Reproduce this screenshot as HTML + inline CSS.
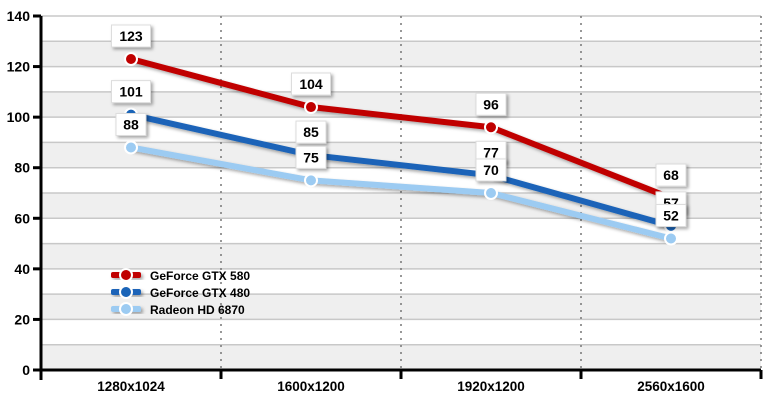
<!DOCTYPE html>
<html><head><meta charset="utf-8"><style>
body{margin:0;background:#fff;font-family:"Liberation Sans",Arial,sans-serif}
</style></head><body>
<svg width="771" height="405" xmlns="http://www.w3.org/2000/svg">
<defs><filter id="sh" x="-30%" y="-30%" width="160%" height="160%"><feDropShadow dx="2" dy="2" stdDeviation="1.5" flood-color="#000" flood-opacity="0.35"/></filter></defs>
<g id="bands"></g><g id="grid"></g><g id="axes"></g><g id="series"></g><g id="labels"></g><g id="legend"></g>
</svg>
<script>
const categories=["1280x1024","1600x1200","1920x1200","2560x1600"];
const seriesNames=["GeForce GTX 580","GeForce GTX 480","Radeon HD 6870"];
const gtx580=[123,104,96,68];
const gtx480=[101,85,77,57];
const hd6870=[88,75,70,52];
const yTicks=[0,20,40,60,80,100,120,140];
const colors=["#c00000","#1a64b8","#9ccbf2"];
const X0=41,X1=761,Y0=370,Y1=16,YMAX=140;
const xs=i=>X0+(X1-X0)/categories.length*(i+0.5);
const ys=v=>Y0-(Y0-Y1)*v/YMAX;
const NS="http://www.w3.org/2000/svg";
function mk(t,a,p){const e=document.createElementNS(NS,t);for(const k in a)e.setAttribute(k,a[k]);document.getElementById(p).appendChild(e);return e;}
for(let v=0;v<YMAX;v+=10){if((v/10)%2===0){const r=mk('rect',{x:X0,y:ys(v+10),width:X1-X0,height:ys(v)-ys(v+10),fill:'#efefef'},'bands');}}
for(let v=10;v<=YMAX;v+=10){const l=mk('line',{x1:X0,x2:X1,y1:ys(v),y2:ys(v),stroke:'#c8c8c8','stroke-width':1.5},'grid');}
for(let i=1;i<=categories.length;i++){const x=X0+(X1-X0)/categories.length*i;const l=mk('line',{x1:x,x2:x,y1:Y1,y2:Y0,stroke:'#777','stroke-width':1.5,'stroke-dasharray':'2,5'},'grid');
const t=mk('line',{x1:x,x2:x,y1:Y0,y2:Y0+9,stroke:'#000','stroke-width':3},'axes');}
let a=mk('line',{x1:X0,x2:X0,y1:Y1,y2:Y0+10,stroke:'#000','stroke-width':3},'axes');
a=mk('line',{x1:X0-8,x2:X1,y1:Y0,y2:Y0,stroke:'#000','stroke-width':3},'axes');
yTicks.forEach(v=>{const t=mk('line',{x1:X0-8,x2:X0,y1:ys(v),y2:ys(v),stroke:'#000','stroke-width':3},'axes');
const tx=mk('text',{x:X0-11,y:ys(v)+5,'text-anchor':'end','font-size':14,'font-weight':'bold'},'axes');tx.textContent=v;});
categories.forEach((c,i)=>{const t=mk('text',{x:xs(i),y:391,'text-anchor':'middle','font-size':13.5,'font-weight':'bold'},'axes');t.textContent=c;});
const all=[gtx580,gtx480,hd6870];
for(let s=all.length-1;s>=0;s--){const d=all[s];
const p=mk('polyline',{points:d.map((v,i)=>xs(i)+','+ys(v)).join(' '),fill:'none',stroke:colors[s],'stroke-width':6,'stroke-linejoin':'round',filter:'url(#sh)'},'series');
d.forEach((v,i)=>{const c=mk('circle',{cx:xs(i),cy:ys(v),r:6,fill:colors[s],stroke:'#fff','stroke-width':2},'series');});}
all.forEach((d,s)=>d.forEach((v,i)=>{const x=xs(i),y=ys(v)-23;const g=mk('g',{},'labels');
const r=document.createElementNS(NS,'rect');const w=String(v).length*9+12;r.setAttribute('x',x-w/2);r.setAttribute('y',y-11);r.setAttribute('width',w);r.setAttribute('height',22);r.setAttribute('fill','#fff');r.setAttribute('stroke','#ddd');r.setAttribute('filter','url(#sh)');g.appendChild(r);
const t=document.createElementNS(NS,'text');t.setAttribute('x',x);t.setAttribute('y',y+5);t.setAttribute('text-anchor','middle');t.setAttribute('font-size',14);t.setAttribute('font-weight','bold');t.textContent=v;g.appendChild(t);}));
seriesNames.forEach((n,s)=>{const y=275+s*17;const g=mk('g',{},'legend');
const l=document.createElementNS(NS,'rect');l.setAttribute('x',111);l.setAttribute('y',y-3);l.setAttribute('width',30);l.setAttribute('height',6);l.setAttribute('rx',2);l.setAttribute('fill',colors[s]);l.setAttribute('filter','url(#sh)');g.appendChild(l);
const c=document.createElementNS(NS,'circle');c.setAttribute('cx',126);c.setAttribute('cy',y);c.setAttribute('r',6);c.setAttribute('fill',colors[s]);c.setAttribute('stroke','#fff');c.setAttribute('stroke-width',2);g.appendChild(c);
const t=document.createElementNS(NS,'text');t.setAttribute('x',150);t.setAttribute('y',y+5);t.setAttribute('font-size',12);t.setAttribute('font-weight','bold');t.textContent=n;g.appendChild(t);});
</script>
</body></html>
